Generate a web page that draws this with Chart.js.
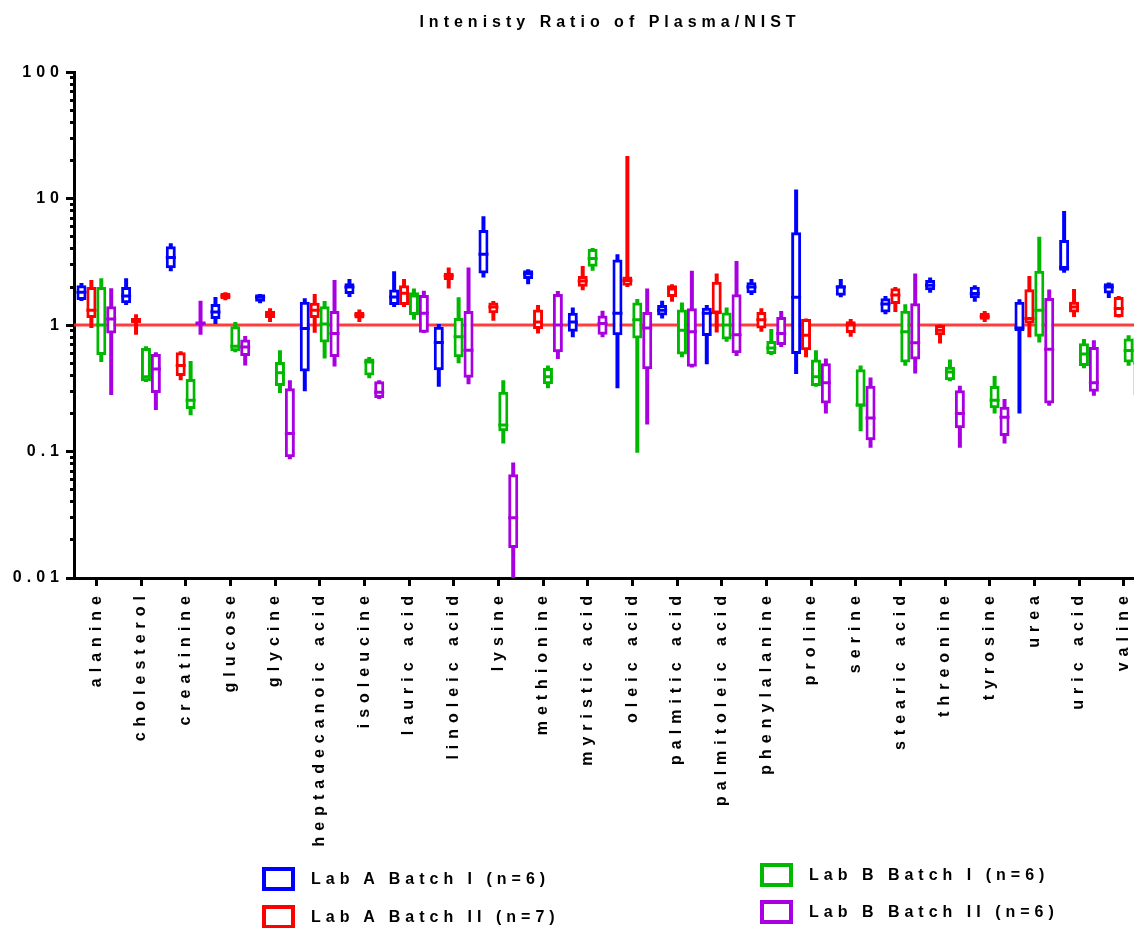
<!DOCTYPE html>
<html>
<head>
<meta charset="utf-8">
<script src="https://cdn.jsdelivr.net/npm/chart.js@4"></script>
<style>
  html, body { margin: 0; padding: 0; background: #fff; }
  body { width: 1134px; height: 928px; overflow: hidden; position: relative; }
  #wrap { position: absolute; left: 0; top: 0; width: 1148px; height: 928px; }
  .legend-item { position: absolute; display: flex; align-items: center; height: 26px;
    font-family: 'Liberation Sans', Arial, sans-serif; font-weight: bold; font-size: 16px;
    letter-spacing: 5px; color: #000; white-space: nowrap; }
  .legend-item .swatch { box-sizing: border-box; width: 33px; height: 24px; border: 4px solid; margin-right: 16px; background: #fff; }
</style>
</head>
<body>
<div id="wrap"><canvas id="chart" width="1148" height="928"></canvas></div>
<div id="legend"></div>
<script>
// Analytes on the x axis
const categories = ['alanine', 'cholesterol', 'creatinine', 'glucose', 'glycine',
  'heptadecanoic acid', 'isoleucine', 'lauric acid', 'linoleic acid', 'lysine',
  'methionine', 'myristic acid', 'oleic acid', 'palmitic acid', 'palmitoleic acid',
  'phenylalanine', 'proline', 'serine', 'stearic acid', 'threonine', 'tyrosine',
  'urea', 'uric acid', 'valine'];

const seriesNames = ['Lab A Batch I (n=6)', 'Lab A Batch II (n=7)', 'Lab B Batch I (n=6)', 'Lab B Batch II (n=6)'];

// Each entry: [min, Q1, median, Q3, max] of the plasma/NIST intensity ratio
const labABatchI = [
  [1.55, 1.58, 1.82, 2.07, 2.15], [1.44, 1.49, 1.70, 2.00, 2.35], [2.66, 2.81, 3.43, 4.21, 4.43],
  [1.02, 1.12, 1.27, 1.47, 1.67], [1.49, 1.53, 1.66, 1.75, 1.76], [0.30, 0.43, 0.94, 1.53, 1.63],
  [1.67, 1.76, 2.00, 2.14, 2.31], [1.39, 1.44, 1.67, 1.91, 2.67], [0.326, 0.44, 0.73, 0.97, 1.02],
  [2.38, 2.56, 3.64, 5.64, 7.27], [2.10, 2.31, 2.55, 2.72, 2.76], [0.80, 0.885, 1.06, 1.25, 1.38],
  [0.316, 0.83, 1.24, 3.30, 3.64], [1.13, 1.19, 1.31, 1.44, 1.56], [0.49, 0.82, 1.24, 1.37, 1.44],
  [1.73, 1.79, 2.00, 2.18, 2.31], [0.41, 0.59, 1.66, 5.43, 11.8], [1.66, 1.71, 2.00, 2.07, 2.31],
  [1.22, 1.26, 1.47, 1.63, 1.70], [1.80, 1.89, 2.07, 2.27, 2.38], [1.53, 1.63, 1.78, 2.01, 2.07],
  [0.20, 0.90, 0.95, 1.53, 1.60], [2.59, 2.69, 2.86, 4.70, 8.00], [1.64, 1.78, 2.00, 2.14, 2.17]
];
const labABatchII = [
  [0.95, 1.14, 1.31, 2.00, 2.27], [0.84, 1.04, 1.09, 1.14, 1.22], [0.367, 0.395, 0.48, 0.61, 0.62],
  [1.57, 1.60, 1.70, 1.80, 1.82], [1.06, 1.14, 1.22, 1.30, 1.36], [0.87, 1.14, 1.31, 1.50, 1.76],
  [1.06, 1.13, 1.20, 1.27, 1.33], [1.39, 1.44, 1.79, 2.07, 2.31], [1.95, 2.27, 2.44, 2.59, 2.86],
  [1.08, 1.24, 1.39, 1.51, 1.55], [0.86, 0.93, 1.06, 1.33, 1.44], [1.89, 2.01, 2.23, 2.45, 2.93],
  [2.00, 2.05, 2.25, 2.42, 21.7], [1.53, 1.67, 1.93, 2.07, 2.10], [0.875, 1.22, 1.27, 2.20, 2.56],
  [0.885, 0.94, 1.10, 1.27, 1.36], [0.556, 0.634, 0.83, 1.12, 1.13], [0.81, 0.865, 1.00, 1.075, 1.12],
  [1.27, 1.47, 1.73, 1.96, 2.00], [0.716, 0.83, 0.91, 1.00, 1.01], [1.06, 1.10, 1.17, 1.25, 1.29],
  [0.80, 1.03, 1.13, 1.92, 2.45], [1.16, 1.26, 1.39, 1.53, 1.93], [1.15, 1.16, 1.35, 1.67, 1.70]
];
const labBBatchI = [
  [0.51, 0.58, 1.00, 2.00, 2.35], [0.355, 0.36, 0.39, 0.66, 0.68], [0.194, 0.217, 0.255, 0.374, 0.52],
  [0.61, 0.62, 0.68, 0.98, 1.06], [0.29, 0.33, 0.42, 0.51, 0.634], [0.545, 0.73, 1.02, 1.41, 1.55],
  [0.38, 0.40, 0.51, 0.545, 0.56], [1.10, 1.20, 1.70, 1.82, 1.95], [0.50, 0.556, 0.81, 1.14, 1.66],
  [0.116, 0.145, 0.162, 0.297, 0.367], [0.316, 0.34, 0.39, 0.457, 0.48], [2.69, 2.89, 3.37, 3.99, 4.07],
  [0.098, 0.785, 1.10, 1.51, 1.61], [0.556, 0.586, 0.91, 1.33, 1.51], [0.74, 0.77, 1.00, 1.26, 1.38],
  [0.58, 0.59, 0.66, 0.75, 0.93], [0.326, 0.33, 0.39, 0.535, 0.634], [0.145, 0.226, 0.233, 0.447, 0.48],
  [0.477, 0.507, 0.885, 1.30, 1.46], [0.36, 0.367, 0.425, 0.468, 0.535], [0.20, 0.22, 0.255, 0.33, 0.395],
  [0.73, 0.81, 1.31, 2.69, 4.99], [0.455, 0.474, 0.59, 0.72, 0.775], [0.477, 0.507, 0.63, 0.785, 0.83]
];
const labBBatchII = [
  [0.28, 0.86, 1.12, 1.41, 1.96], [0.213, 0.29, 0.45, 0.59, 0.61], [0.84, 1.00, 1.04, 1.06, 1.56],
  [0.48, 0.57, 0.67, 0.77, 0.82], [0.087, 0.090, 0.139, 0.316, 0.367], [0.47, 0.56, 0.86, 1.29, 2.27],
  [0.26, 0.265, 0.295, 0.36, 0.367], [0.865, 0.87, 1.24, 1.73, 1.87], [0.34, 0.383, 0.634, 1.29, 2.86],
  [0.010, 0.0173, 0.030, 0.066, 0.082], [0.54, 0.61, 1.00, 1.76, 1.86], [0.80, 0.84, 1.03, 1.19, 1.30],
  [0.164, 0.447, 0.95, 1.27, 1.95], [0.463, 0.468, 0.885, 1.36, 2.69], [0.57, 0.60, 0.84, 1.75, 3.21],
  [0.67, 0.695, 0.86, 1.16, 1.29], [0.20, 0.24, 0.35, 0.50, 0.545], [0.107, 0.123, 0.184, 0.331, 0.386],
  [0.415, 0.535, 0.725, 1.49, 2.56], [0.107, 0.153, 0.20, 0.306, 0.331], [0.116, 0.133, 0.187, 0.226, 0.26],
  [0.23, 0.24, 0.645, 1.64, 1.91], [0.276, 0.297, 0.35, 0.67, 0.76], [0.27, 0.28, 0.50, 0.80, 0.84]
];

// Log axis ticks: labelled decades, unlabelled minor steps inside each decade
const yMajorTicks = [0.01, 0.1, 1, 10, 100];
const yMinorSteps = [2, 3, 4, 5, 6, 7, 8, 9];
const referenceRatio = 1;

const seriesColors = ['#0000ff', '#ff0000', '#00b800', '#a800e0'];
const seriesData = [labABatchI, labABatchII, labBBatchI, labBBatchII];

const FONT = "'Liberation Sans', Arial, sans-serif";
const SPACING = '5px';
const X_LABEL_SPACING = '6px';
// half thickness of the median bar, as a ratio on the log axis (about 1.5 px)
const MEDIAN_RATIO = Math.pow(10, 1.5 / 126.5);
// distance between neighbouring groups inside one category, in category units
const GROUP_STEP = 0.222;

const datasets = [];
seriesData.forEach((rows, k) => {
  const shift = (k - (seriesData.length - 1) / 2) * GROUP_STEP;
  const at = (lo, hi, i) => ({ x: i + shift, y: [lo, hi] });
  const common = { grouped: false, borderWidth: 0, inflateAmount: 0 };
  datasets.push(Object.assign({}, common, {
    label: seriesNames[k] + ' median',
    data: rows.map((r, i) => at(r[2] / MEDIAN_RATIO, r[2] * MEDIAN_RATIO, i)),
    backgroundColor: seriesColors[k], barThickness: 10, order: 1
  }));
  datasets.push(Object.assign({}, common, {
    label: seriesNames[k], data: rows.map((r, i) => at(r[1], r[3], i)),
    backgroundColor: '#ffffff', borderColor: seriesColors[k], borderWidth: 3, borderSkipped: false,
    barThickness: 10, order: 2
  }));
  datasets.push(Object.assign({}, common, {
    label: seriesNames[k] + ' range', data: rows.map((r, i) => at(r[0], r[4], i)),
    backgroundColor: seriesColors[k], barThickness: 4, order: 3
  }));
});
datasets.push({
  type: 'line', label: 'ratio = 1', xAxisID: 'xRef', yAxisID: 'y',
  data: [{ x: 0, y: referenceRatio }, { x: 1, y: referenceRatio }],
  borderColor: 'rgba(255, 40, 40, 0.9)', borderWidth: 3, pointRadius: 0, order: 4
});

const letterSpacing = {
  id: 'letterSpacing',
  beforeLayout(chart) { chart.ctx.letterSpacing = SPACING; },
  beforeDraw(chart) { chart.ctx.letterSpacing = SPACING; }
};

const tickFont = { family: FONT, size: 16, weight: 'bold' };

new Chart(document.getElementById('chart'), {
  type: 'bar',
  data: { datasets },
  plugins: [letterSpacing],
  options: {
    responsive: false,
    animation: false,
    devicePixelRatio: 1,
    layout: { padding: { left: 0, right: 2, top: 0, bottom: 0 } },
    plugins: {
      legend: { display: false },
      tooltip: { enabled: false },
      title: {
        display: true, text: 'Intenisty Ratio of Plasma/NIST', color: '#000', fullSize: false,
        font: { family: FONT, size: 16, weight: 'bold' },
        padding: { top: 13, bottom: 40 }
      }
    },
    scales: {
      x: {
        type: 'linear', offset: false, min: -0.5, max: categories.length - 0.5,
        afterBuildTicks(scale) { scale.ticks = categories.map((_, i) => ({ value: i })); },
        grid: { offset: false, drawOnChartArea: false, tickLength: 8, tickWidth: 3, tickColor: '#000' },
        border: { color: '#000', width: 3 },
        ticks: {
          color: '#000', font: tickFont, minRotation: 90, maxRotation: 90, autoSkip: false, padding: 4,
          callback: v => categories[v]
        },
        beforeCalculateLabelRotation(scale) { scale.ctx.letterSpacing = X_LABEL_SPACING; },
        afterFit(scale) {
          scale.height = 350;
          scale.ctx.letterSpacing = SPACING;
          if (!scale._spacedLabels) {
            const drawLabels = scale.drawLabels.bind(scale);
            scale.drawLabels = (area) => {
              const c = scale.ctx, prev = c.letterSpacing;
              c.letterSpacing = X_LABEL_SPACING;
              drawLabels(area);
              c.letterSpacing = prev;
            };
            scale._spacedLabels = true;
          }
        }
      },
      xRef: { type: 'linear', min: 0, max: 1, offset: false, display: false },
      y: {
        type: 'logarithmic', position: 'left', min: 0.01, max: 100, stacked: false, weight: 1,
        afterBuildTicks(scale) { scale.ticks = yMajorTicks.map(v => ({ value: v, major: true })); },
        ticks: { color: '#000', font: tickFont, padding: 2, autoSkip: false, callback: v => String(v) },
        grid: { drawOnChartArea: false, tickLength: 8, tickWidth: 3, tickColor: '#000' },
        border: { color: '#000', width: 3 },
        afterFit(scale) { scale.width = 74; }
      },
      yMinor: {
        type: 'logarithmic', position: 'left', min: 0.01, max: 100, weight: 0,
        afterBuildTicks(scale) {
          const ticks = [];
          yMajorTicks.slice(0, -1).forEach(d => yMinorSteps.forEach(s => ticks.push({ value: d * s })));
          scale.ticks = ticks;
        },
        ticks: { display: false },
        grid: { drawOnChartArea: false, tickLength: 4, tickWidth: 3, tickColor: '#000' },
        border: { display: false },
        afterFit(scale) { scale.width = 0; }
      }
    }
  }
});

// Two-column legend below the axis labels
const legendSpots = [
  { left: 262, top: 866 }, { left: 262, top: 904 },
  { left: 760, top: 862 }, { left: 760, top: 899 }
];
const legend = document.getElementById('legend');
seriesNames.forEach((name, k) => {
  const item = document.createElement('div');
  item.className = 'legend-item';
  item.style.left = legendSpots[k].left + 'px';
  item.style.top = legendSpots[k].top + 'px';
  const sw = document.createElement('span');
  sw.className = 'swatch';
  sw.style.borderColor = seriesColors[k];
  const tx = document.createElement('span');
  tx.textContent = name;
  item.appendChild(sw);
  item.appendChild(tx);
  legend.appendChild(item);
});
</script>
</body>
</html>
